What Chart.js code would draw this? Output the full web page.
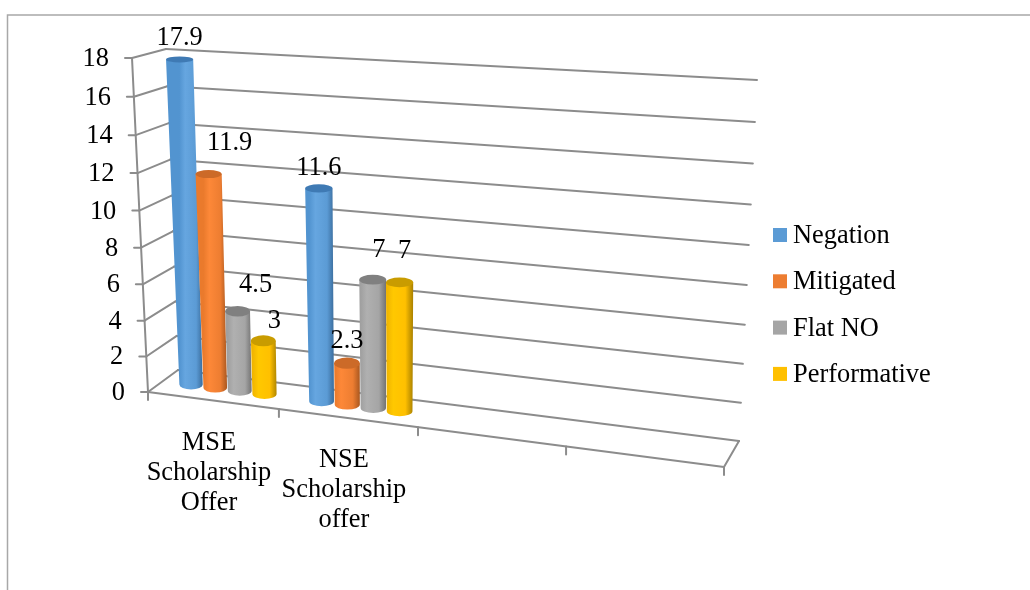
<!DOCTYPE html>
<html>
<head>
<meta charset="utf-8">
<title>Refusal strategies</title>
<script src="https://cdn.jsdelivr.net/npm/chart.js@4"></script>
<style>
  html, body { margin: 0; padding: 0; background: #fff; }
  canvas { display: block; }
</style>
</head>
<body>
<canvas id="refusalChart" width="1030" height="590"></canvas>
<script>
const categories = [["MSE", "Scholarship", "Offer"], ["NSE", "Scholarship", "offer"], "", ""];
const negation = [17.9, 11.6];
const mitigated = [11.9, 2.3];
const flatNo = [4.5, 7];
const performative = [3, 7];
const seriesNames = ["Negation", "Mitigated", "Flat NO", "Performative"];
const yTicks = [0, 2, 4, 6, 8, 10, 12, 14, 16, 18];

const FONT = '"Liberation Serif", "Times New Roman", serif';
const FONT_SIZE = 26.4;
const LINE = "#8c8c8c";

// body, highlight, shadow and cap shades for each cylinder
const palette = [
  { legend: "#5b9bd5", edge: "#5294d0", light: "#66a6e0", dark: "#3a6c9c", cap: "#3f7ab4" },
  { legend: "#ed7d31", edge: "#ea7a2c", light: "#fd8838", dark: "#a9571f", cap: "#cc6a28" },
  { legend: "#a5a5a5", edge: "#a0a0a0", light: "#b0b0b0", dark: "#737373", cap: "#808080" },
  { legend: "#ffc000", edge: "#f0b400", light: "#ffc800", dark: "#b08600", cap: "#c99c00" },
];

// where each value label sits relative to the top of its cylinder
const labelNudge = [
  [[0, -21], [0, -20]],
  [[21, -31], [0, -22]],
  [[18, -26], [6, -30]],
  [[11, -20], [5, -31]],
];

// perspective corners of the 3D box, as [x, y] on the canvas
const box = {
  front: { bottomLeft: [148, 392], topLeft: [132, 58], bottomRight: [724, 467] },
  back: { bottomLeft: [178, 370], topLeft: [166, 49], bottomRight: [739, 441], topRight: [757, 80] },
  bars: { bottomLeft: [164, 381], topLeft: [151, 56], bottomRight: [731, 454], topRight: [749, 88] },
};
const DEPTH_X = -0.1176;
const DEPTH_Y = -0.049;

const lerp = (a, b, t) => [a[0] + (b[0] - a[0]) * t, a[1] + (b[1] - a[1]) * t];
const warpX = (t) => t * (1 + DEPTH_X) / (1 + DEPTH_X * t);
const warpY = (t) => t * (1 + DEPTH_Y) / (1 + DEPTH_Y * t);

function heightFraction(chart, value) {
  const yScale = chart.scales.y;
  return warpY((yScale.bottom - yScale.getPixelForValue(value)) / (yScale.bottom - yScale.top));
}

function widthFraction(chart, x) {
  const xScale = chart.scales.x;
  return (x - xScale.left) / (xScale.right - xScale.left);
}

function planePoint(plane, u, v) {
  const left = lerp(plane.bottomLeft, plane.topLeft, v);
  const right = lerp(plane.bottomRight, plane.topRight, v);
  return lerp(left, right, warpX(u));
}

function strokeLine(ctx, a, b) {
  ctx.beginPath();
  ctx.moveTo(a[0], a[1]);
  ctx.lineTo(b[0], b[1]);
  ctx.stroke();
}

function drawBox(chart) {
  const { ctx, scales } = chart;
  const xScale = scales.x;
  ctx.save();

  // outer frame
  ctx.strokeStyle = "#a8a8a8";
  ctx.lineWidth = 1.5;
  ctx.beginPath();
  ctx.moveTo(7.5, 590);
  ctx.lineTo(7.5, 15);
  ctx.lineTo(1030, 15);
  ctx.stroke();

  ctx.strokeStyle = LINE;
  ctx.lineWidth = 2;
  ctx.lineCap = "round";

  // value gridlines run along the side wall and then the back wall
  ctx.fillStyle = "#000";
  ctx.font = `${FONT_SIZE}px ${FONT}`;
  ctx.textAlign = "right";
  ctx.textBaseline = "middle";
  yTicks.forEach((tick) => {
    const v = heightFraction(chart, tick);
    const frontPt = lerp(box.front.bottomLeft, box.front.topLeft, v);
    const cornerPt = lerp(box.back.bottomLeft, box.back.topLeft, v);
    const rightPt = lerp(box.back.bottomRight, box.back.topRight, v);
    strokeLine(ctx, frontPt, cornerPt);
    strokeLine(ctx, cornerPt, rightPt);
    strokeLine(ctx, [frontPt[0] - 7, frontPt[1]], frontPt);
    ctx.fillText(String(tick), frontPt[0] - 23, frontPt[1] + 1);
  });
  strokeLine(ctx, box.front.bottomLeft, box.front.topLeft);

  // floor outline
  strokeLine(ctx, box.front.bottomLeft, box.front.bottomRight);
  strokeLine(ctx, box.front.bottomRight, box.back.bottomRight);

  // category ticks and their wrapped labels on the floor's front edge
  const step = xScale.getPixelForTick(1) - xScale.getPixelForTick(0);
  for (let i = 0; i <= categories.length; i++) {
    const t = warpX(widthFraction(chart, xScale.left + i * step));
    const p = lerp(box.front.bottomLeft, box.front.bottomRight, t);
    strokeLine(ctx, p, [p[0], p[1] + 8]);
  }
  ctx.textAlign = "center";
  categories.forEach((lines, i) => {
    if (!Array.isArray(lines)) return;
    const t = warpX(widthFraction(chart, xScale.getPixelForTick(i)));
    const p = lerp(box.front.bottomLeft, box.front.bottomRight, t);
    lines.forEach((line, row) => {
      ctx.fillText(line, p[0] - 3.5, p[1] + 42.5 + row * 30);
    });
  });
  ctx.restore();
}

function drawCylinder(chart, bar, value, shades) {
  const { ctx } = chart;
  const u = widthFraction(chart, bar.x);
  const topV = heightFraction(chart, value);
  const topPt = planePoint(box.bars, u, topV);
  const basePt = planePoint(box.bars, u, 0);
  const halfU = bar.width / 2 / chart.width;
  const halfWidth = (v, k) => {
    const a = planePoint(box.bars, u - halfU, v);
    const b = planePoint(box.bars, u + halfU, v);
    return (b[0] - a[0]) / 2 * k;
  };
  const topHalf = halfWidth(topV, 0.97 + 0.1 * topV);
  const baseHalf = halfWidth(0, 0.97);
  // the caps flatten towards the top of the box
  const topRy = 6 - 3 * topV;
  const baseRy = 5;

  const grad = ctx.createLinearGradient(basePt[0] - baseHalf, 0, basePt[0] + baseHalf, 0);
  grad.addColorStop(0, shades.edge);
  grad.addColorStop(0.25, shades.light);
  grad.addColorStop(0.72, shades.legend);
  grad.addColorStop(1, shades.dark);

  ctx.save();
  ctx.fillStyle = grad;
  ctx.beginPath();
  ctx.moveTo(topPt[0] - topHalf, topPt[1]);
  ctx.lineTo(basePt[0] - baseHalf, basePt[1]);
  ctx.ellipse(basePt[0], basePt[1], baseHalf, baseRy, 0, Math.PI, 0, true);
  ctx.lineTo(topPt[0] + topHalf, topPt[1]);
  ctx.closePath();
  ctx.fill();

  ctx.fillStyle = shades.cap;
  ctx.beginPath();
  ctx.ellipse(topPt[0], topPt[1], topHalf, topRy, 0, 0, Math.PI * 2);
  ctx.fill();
  ctx.restore();
  return topPt;
}

function drawLegend(chart) {
  const { ctx } = chart;
  ctx.save();
  ctx.font = `${FONT_SIZE}px ${FONT}`;
  ctx.textAlign = "left";
  ctx.textBaseline = "middle";
  chart.data.datasets.forEach((dataset, i) => {
    const y = 235 + i * 46.3;
    ctx.fillStyle = palette[i].legend;
    ctx.fillRect(773, y - 7, 14, 14);
    ctx.fillStyle = "#000";
    ctx.fillText(dataset.label, 793, y + 1);
  });
  ctx.restore();
}

// Chart.js lays out the bars; this plugin paints them in the tilted box
const cylinderPlugin = {
  id: "cylinderPlugin",
  beforeDatasetsDraw(chart) {
    const { ctx } = chart;
    drawBox(chart);
    const tops = [];
    chart.data.datasets.forEach((dataset, i) => {
      chart.getDatasetMeta(i).data.forEach((bar, j) => {
        if (dataset.data[j] == null) return;
        tops.push({ i, j, value: dataset.data[j], at: drawCylinder(chart, bar, dataset.data[j], palette[i]) });
      });
    });
    ctx.save();
    ctx.fillStyle = "#000";
    ctx.font = `${FONT_SIZE}px ${FONT}`;
    ctx.textAlign = "center";
    ctx.textBaseline = "middle";
    tops.forEach(({ i, j, value, at }) => {
      const nudge = labelNudge[i][j];
      ctx.fillText(String(value), at[0] + nudge[0], at[1] + nudge[1]);
    });
    ctx.restore();
    drawLegend(chart);
    return false;
  },
};

new Chart(document.getElementById("refusalChart"), {
  type: "bar",
  data: {
    labels: categories,
    datasets: [negation, mitigated, flatNo, performative].map((data, i) => ({
      label: seriesNames[i],
      data,
      backgroundColor: palette[i].legend,
      categoryPercentage: 0.76,
      barPercentage: 1,
    })),
  },
  options: {
    responsive: false,
    animation: false,
    layout: { padding: 0 },
    plugins: { legend: { display: false }, tooltip: { enabled: false } },
    scales: {
      x: { display: false },
      y: { display: false, min: 0, max: 18, ticks: { stepSize: 2 } },
    },
  },
  plugins: [cylinderPlugin],
});
</script>
</body>
</html>
